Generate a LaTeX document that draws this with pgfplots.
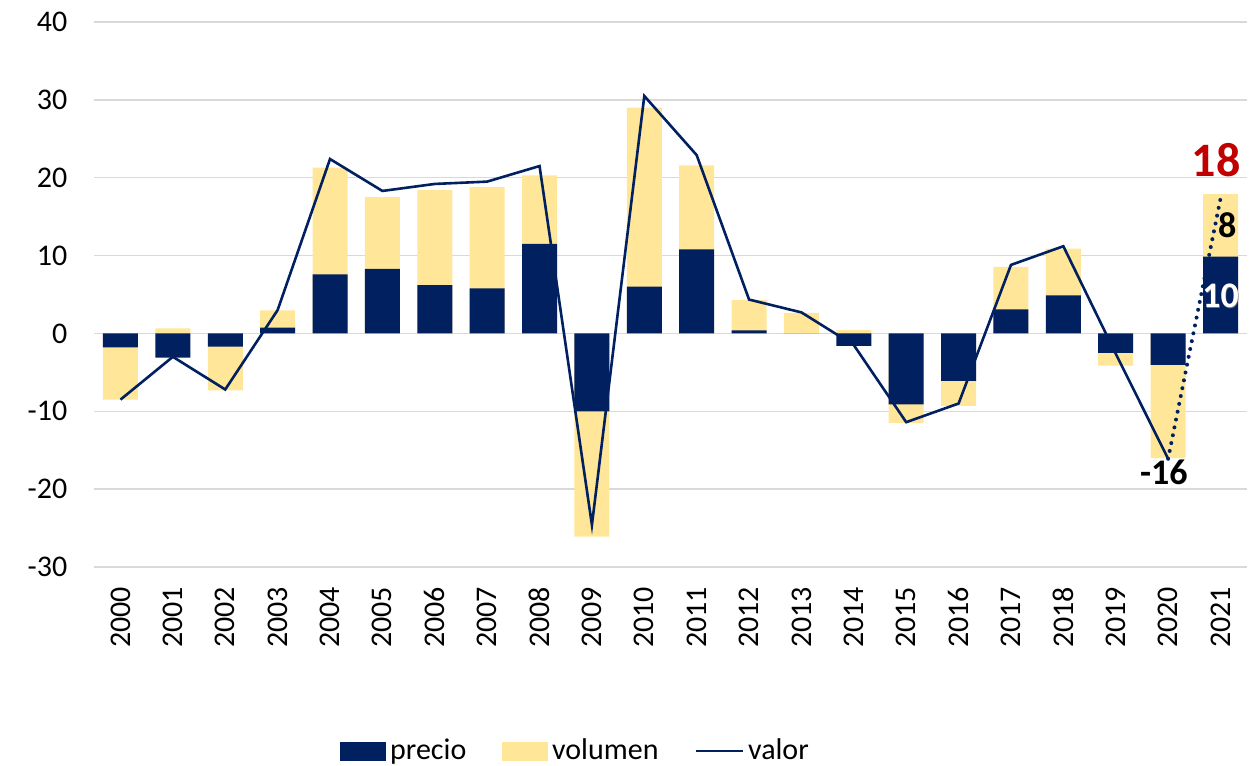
\documentclass[border=0pt]{standalone}
\usepackage{fontspec}
\setmainfont{Carlito}
\usepackage{pgfplots}
\pgfplotsset{compat=1.18}
\usepackage{pgfplotstable}
\definecolor{navy}{HTML}{002060}
\definecolor{amar}{HTML}{FFE699}
\definecolor{gridc}{HTML}{D9D9D9}
\definecolor{rojo}{HTML}{C00000}

\pgfplotstableread{
year p v valor
2000 -1.8 -6.7 -8.5
2001 -3.1 0.65 -3.0
2002 -1.7 -5.6 -7.2
2003 0.75 2.2 3.0
2004 7.6 13.7 22.4
2005 8.3 9.2 18.3
2006 6.2 12.2 19.2
2007 5.8 13.0 19.5
2008 11.5 8.8 21.5
2009 -10.0 -16.1 -24.6
2010 6.0 23.0 30.5
2011 10.8 10.8 22.9
2012 0.4 3.9 4.35
2013 0.0 2.65 2.7
2014 -1.6 0.45 -1.5
2015 -9.1 -2.4 -11.4
2016 -6.1 -3.2 -9.0
2017 3.1 5.45 8.8
2018 4.9 6.0 11.2
2019 -2.5 -1.65 -2.6
2020 -4.05 -11.95 -16.1
2021 9.85 8.05 nan
}\datos

\begin{document}
\begin{tikzpicture}
\useasboundingbox (-47.15pt,-99.5pt) rectangle (577.85pt,283.5pt);
\begin{axis}[
  at={(0,0)}, anchor=south west,
  scale only axis, width=576.2pt, height=272.5pt,
  xmin=1999.5, xmax=2021.5, ymin=-30, ymax=40,
  xtick={2000,...,2021}, ytick={-30,-20,...,40},
  axis line style={draw=none}, major tick length=0pt,
  ymajorgrids, grid style={gridc, line width=0.75pt},
  tick label style={font=\fontsize{15}{18}\selectfont},
  xticklabel style={rotate=90, anchor=east},
  xticklabel shift=6.5pt, yticklabel shift=10pt,
  /pgf/number format/assume math mode=true,
  /pgf/number format/1000 sep={},
  unbounded coords=jump,
  legend columns=3,
  legend style={draw=none, fill=none, at={(0.2132,-0.3376)}, anchor=west,
    inner sep=0pt, font=\fontsize{15}{18}\selectfont,
    nodes={inner xsep=2pt, inner ysep=0pt},
    /tikz/every even column/.append style={column sep=16pt}},
  legend cell align=left,
]
\addlegendimage{legend image code/.code={\fill[navy] (0pt,-4.5pt) rectangle (22.5pt,4.5pt);}}
\addlegendentry{precio}
\addlegendimage{legend image code/.code={\fill[amar] (0pt,-4.5pt) rectangle (22.5pt,4.5pt);}}
\addlegendentry{volumen}
\addlegendimage{legend image code/.code={\draw[navy, line width=1.3pt] (0pt,0pt) -- (23.5pt,0pt);}}
\addlegendentry{valor}

\addplot[ybar, bar width=17.5pt, bar shift=0pt, fill=amar, draw=none, forget plot]
  table[x=year, y expr={ifthenelse(\thisrow{p}*\thisrow{v}>0,\thisrow{p}+\thisrow{v},\thisrow{v})}]{\datos};
\addplot[ybar, bar width=17.5pt, bar shift=0pt, fill=navy, draw=none, forget plot]
  table[x=year, y=p]{\datos};
\addplot[navy, line width=1.3pt, forget plot] table[x=year, y=valor]{\datos};
\addplot[navy, line width=2pt, dash pattern=on 0pt off 4pt, line cap=round, forget plot]
  coordinates {(2020,-16.1) (2021,17.3)};

\node[font=\fontsize{24}{28}\selectfont\bfseries, text=rojo] at (axis cs:2020.92,22.3) {18};
\node[font=\fontsize{18}{21}\selectfont\bfseries] at (axis cs:2021.13,13.9) {8};
\node[font=\fontsize{18}{21}\selectfont\bfseries, text=black!55] at (axis cs:2021.01,4.7) {10};
\node[font=\fontsize{18}{21}\selectfont\bfseries, text=white] at (axis cs:2021.0,4.8) {10};
\node[font=\fontsize{18}{21}\selectfont\bfseries] at (axis cs:2019.92,-17.9) {-16};
\end{axis}
\end{tikzpicture}
\end{document}
